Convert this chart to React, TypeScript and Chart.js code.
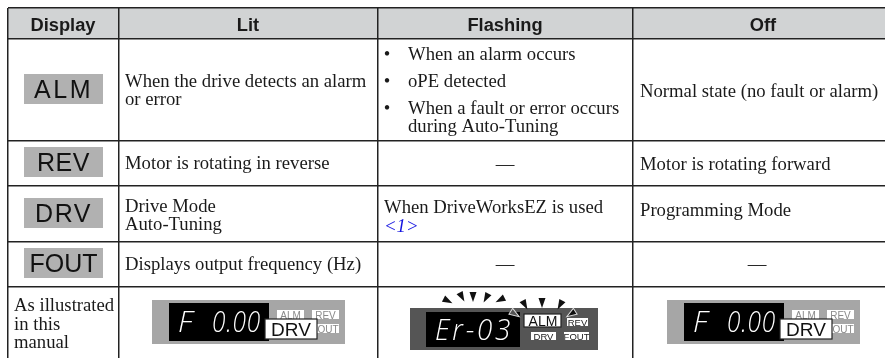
import React, { useEffect, useRef } from "react";
import { Chart, registerables } from "chart.js";

Chart.register(...registerables);

const columnEdges = [8, 118.5, 378, 633];
const rowEdges = [8, 38.5, 141, 186, 242, 287];
const headers = ["Display", "Lit", "Flashing", "Off"];
const headerCenters = [63, 248, 505, 763];
const badgeLabels = ["ALM", "REV", "DRV", "FOUT"];
const badgeSpacing = ["2.5px", "0.5px", "1.5px", "0px"];
const badgeTops = [74, 147, 198, 248];

type T = [string, number, number];
const bodyLines: T[] = [
  ["When the drive detects an alarm", 125, 87],
  ["or error", 125, 105],
  ["Motor is rotating in reverse", 125, 169],
  ["Drive Mode", 125, 212],
  ["Auto-Tuning", 125, 230],
  ["Displays output frequency (Hz)", 125, 270],
  ["As illustrated", 14, 311],
  ["in this", 14, 330],
  ["manual", 14, 348],
  ["When an alarm occurs", 408, 60],
  ["oPE detected", 408, 87],
  ["When a fault or error occurs", 408, 114],
  ["during Auto-Tuning", 408, 132],
  ["When DriveWorksEZ is used", 384, 213],
  ["Normal state (no fault or alarm)", 640, 97],
  ["Motor is rotating forward", 640, 170],
  ["Programming Mode", 640, 216],
];
const bullets: T[] = [
  ["•", 387, 60],
  ["•", 387, 87],
  ["•", 387, 114],
];
const dashes: T[] = [
  ["—", 505, 170],
  ["—", 505, 270],
  ["—", 757, 270],
];
const linkText = "<1>";
const panelOffsets = [-515, 0];
const darkRays = [
  [448, 301, -1.1],
  [462, 297, -0.5],
  [473, 297, 0],
  [486, 298, 0.5],
  [500, 300, 1.1],
  [525, 305, -0.5],
  [542, 303, 0],
  [560, 305, 0.5],
];

function Table() {
  const ref = useRef<HTMLCanvasElement | null>(null);
  useEffect(() => {
    const canvas = ref.current!;
    const tablePlugin = {
      id: "tablePlugin",
      beforeDraw(chart: any) {
        const { ctx } = chart;
        const x = chart.scales.x;
        const y = chart.scales.y;
        ctx.save();
        ctx.fillStyle = "#d1d3d4";
        ctx.fillRect(x.getPixelForValue(8), y.getPixelForValue(8), 877, 30.5);
        ctx.restore();
      },
      afterDraw(chart: any) {
        const { ctx } = chart;
        const X = (v: number) => chart.scales.x.getPixelForValue(v);
        const Y = (v: number) => chart.scales.y.getPixelForValue(v);
        const text = (s: string, px: number, py: number, font: string, color = "#1a1a1a", align: CanvasTextAlign = "left", spacing = "0px", maxW?: number) => {
          ctx.font = font;
          ctx.fillStyle = color;
          ctx.textAlign = align;
          (ctx as any).letterSpacing = spacing;
          ctx.textBaseline = "alphabetic";
          if (maxW) ctx.fillText(s, X(px), Y(py), maxW);
          else ctx.fillText(s, X(px), Y(py));
          (ctx as any).letterSpacing = "0px";
        };
        const box = (l: number, t: number, r: number, b: number, fill: string, stroke?: string) => {
          ctx.fillStyle = fill;
          ctx.fillRect(X(l), Y(t), r - l, b - t);
          if (stroke) {
            ctx.strokeStyle = stroke;
            ctx.lineWidth = 1.2;
            ctx.strokeRect(X(l), Y(t), r - l, b - t);
          }
        };
        const tri = (cx: number, cy: number, ang: number, fill: string, stroke?: string) => {
          ctx.save();
          ctx.translate(X(cx), Y(cy));
          ctx.rotate(ang);
          ctx.beginPath();
          ctx.moveTo(-3.5, -5);
          ctx.lineTo(3.5, -5);
          ctx.lineTo(0, 5);
          ctx.closePath();
          ctx.fillStyle = fill;
          ctx.fill();
          if (stroke) {
            ctx.strokeStyle = stroke;
            ctx.lineWidth = 1;
            ctx.stroke();
          }
          ctx.restore();
        };
        ctx.save();
        const serif = "18.7px 'Liberation Serif'";
        const seg = "italic 200 30px 'Open Sans'";
        headers.forEach((h, i) =>
          text(h, headerCenters[i], 31, "bold 18.3px 'Liberation Sans'", "#1a1a1a", "center"),
        );
        badgeLabels.forEach((label, i) => {
          box(24, badgeTops[i], 103, badgeTops[i] + 30, "#b1b1b1");
          text(label, 63.5, badgeTops[i] + 24, "25px 'Liberation Sans'", "#111", "center", badgeSpacing[i]);
        });
        bodyLines.forEach(([s, px, py]) => text(s, px, py, serif));
        bullets.forEach(([s, px, py]) => text(s, px, py, serif, "#1a1a1a", "center"));
        dashes.forEach(([s, px, py]) => text(s, px, py, serif, "#1a1a1a", "center"));
        text(linkText, 384, 231.5, "italic 18.7px 'Liberation Serif'", "#1414e0");

        // lit / off illustrations
        panelOffsets.forEach((o) => {
          box(667 + o, 300, 860 + o, 344, "#a6a6a6");
          box(684 + o, 303, 784 + o, 341, "#000");
          text("F", 693 + o, 332, seg, "#fff");
          text("0.00", 727 + o, 332, seg, "#fff", "left", "1px", 49);
          box(792 + o, 310, 819 + o, 319, "#fff");
          text("ALM", 805.5 + o, 318.5, "10px 'Liberation Sans'", "#8a8a8a", "center");
          box(827 + o, 310, 854 + o, 319, "#fff");
          text("REV", 840.5 + o, 318.5, "10px 'Liberation Sans'", "#8a8a8a", "center");
          box(827 + o, 324, 854 + o, 333, "#fff");
          text("OUT", 843 + o, 332.5, "10px 'Liberation Sans'", "#8a8a8a", "center");
          box(780 + o, 319, 832 + o, 339, "#fff", "#222");
          text("DRV", 806 + o, 336, "19px 'Liberation Sans'", "#111", "center");
        });

        // flashing illustration
        box(410, 308, 598, 350, "#555555");
        box(426, 312, 520, 347, "#000");
        text("Er-03", 435, 340, seg, "#fff", "left", "3px", 78);
        box(524, 314, 561, 327, "#fff", "#222");
        text("ALM", 543, 325.5, "14px 'Liberation Sans'", "#111", "center");
        box(567, 318, 588, 326, "#fff");
        text("REV", 577.5, 325.5, "9.5px 'Liberation Sans'", "#222", "center");
        box(531, 332, 556, 340, "#fff");
        text("DRV", 543.5, 339.5, "9.5px 'Liberation Sans'", "#222", "center");
        box(564, 332, 589, 340, "#fff");
        text("FOUT", 576.5, 339.5, "9.5px 'Liberation Sans'", "#222", "center");
        darkRays.forEach(([cx, cy, a]) => tri(cx, cy, a, "#111"));
        tri(515, 314, -1, "#555555", "#ddd");
        tri(571, 314, 1, "#111", "#ddd");
        ctx.restore();
      },
    };
    const chart = new Chart(canvas, {
      type: "scatter",
      data: { datasets: [{ data: [], showLine: false }] },
      plugins: [tablePlugin as any],
      options: {
        animation: false,
        responsive: false,
        events: [],
        layout: { padding: { left: 8, top: 8, right: 0, bottom: 0 } },
        plugins: { legend: { display: false }, tooltip: { enabled: false }, title: { display: false } },
        scales: {
          x: {
            type: "linear",
            min: 8,
            max: 885,
            border: { display: false },
            grid: { color: "#222", lineWidth: 1.5, drawTicks: false },
            ticks: { display: false, autoSkip: false },
            afterBuildTicks: (s: any) => {
              s.ticks = columnEdges.map((value) => ({ value }));
            },
          },
          y: {
            type: "linear",
            reverse: true,
            min: 8,
            max: 358,
            border: { display: false },
            grid: { color: "#222", lineWidth: 1.5, drawTicks: false },
            ticks: { display: false, autoSkip: false },
            afterBuildTicks: (s: any) => {
              s.ticks = rowEdges.map((value) => ({ value }));
            },
          },
        },
      },
    });
    return () => chart.destroy();
  }, []);
  return (
    <div style={{ position: "fixed", left: 0, top: 0, width: 885, height: 358, background: "#fff" }}>
      <canvas ref={ref} width={885} height={358} style={{ display: "block" }} />
    </div>
  );
}

export default function App() {
  return <Table />;
}
